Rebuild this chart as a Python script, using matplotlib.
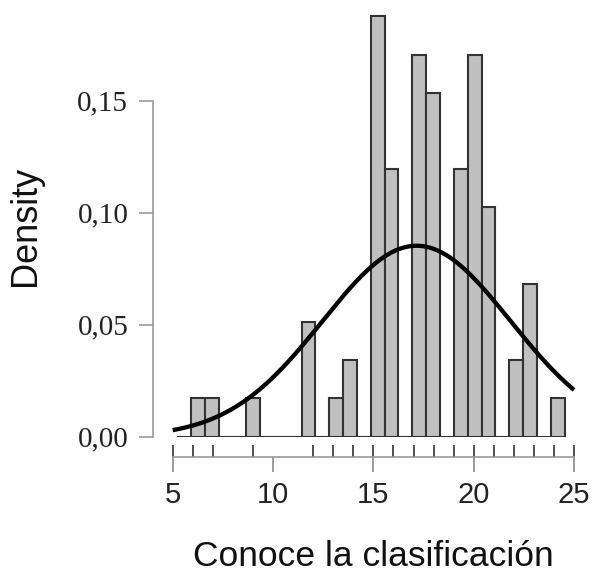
import numpy as np
import matplotlib
matplotlib.use('agg')
import matplotlib.pyplot as plt
from matplotlib.ticker import FixedLocator

# histogram: first bin edge, bin width, density per bin
bin_start = 5.21
bin_width = 0.69
density = [0.0, 0.0173, 0.0173, 0.0, 0.0, 0.0173, 0.0, 0.0, 0.0, 0.0513,
           0.0, 0.0173, 0.0344, 0.0, 0.188, 0.1195, 0.0, 0.1705, 0.1534, 0.0,
           0.1195, 0.1705, 0.1025, 0.0, 0.0344, 0.0683, 0.0, 0.0173]

# observed values shown as rug
rug_values = [6, 7, 9, 12, 13, 14, 15, 16, 17, 18, 19, 20, 21, 22, 23, 24]

# fitted normal curve
norm_mean = 17.15
norm_sd = 4.68

x_ticks = [5, 10, 15, 20, 25]
y_ticks = [0.00, 0.05, 0.10, 0.15]
y_ticklabels = ['0,00', '0,05', '0,10', '0,15']

edges = bin_start + bin_width * np.arange(len(density) + 1)

fig = plt.figure(figsize=(5.95, 5.74), dpi=100)
ax = fig.add_axes([153.3 / 595, 137.3 / 574, 432.8 / 595, 425.6 / 574])

ax.bar(edges[:-1], density, width=bin_width, align='edge',
       color='#c0c0c0', edgecolor='#333333', linewidth=1.5, zorder=2)

xs = np.linspace(x_ticks[0], x_ticks[-1], 300)
ys = np.exp(-0.5 * ((xs - norm_mean) / norm_sd) ** 2) / (norm_sd * np.sqrt(2 * np.pi))
ax.plot(xs, ys, color='black', lw=3.1, zorder=3, solid_capstyle='butt')

ax.set_xlim(4.03, 25.6)
ax.set_ylim(0, 0.19)

for s in ['top', 'right']:
    ax.spines[s].set_visible(False)

ax.spines['left'].set_bounds(y_ticks[0], y_ticks[-1])
ax.spines['left'].set_color('#9a9a9a')
ax.spines['left'].set_linewidth(1.2)
ax.set_yticks(y_ticks)
ax.set_yticklabels(y_ticklabels, family='Liberation Serif', fontsize=21, color='#222222')
ax.tick_params(axis='y', length=10, width=1.2, color='#9a9a9a', pad=8)

ax.spines['bottom'].set_position(('outward', 14.8))
ax.spines['bottom'].set_bounds(x_ticks[0], x_ticks[-1])
ax.spines['bottom'].set_color('#9a9a9a')
ax.spines['bottom'].set_linewidth(1.2)
ax.set_xticks(x_ticks)
ax.set_xticklabels([str(v) for v in x_ticks], family='Liberation Sans', fontsize=21, color='#222222')
ax.tick_params(axis='x', which='major', length=11, width=1.2, color='#8a8a8a', pad=6)

# rug drawn as inward minor ticks, plus the two axis end caps
ax.xaxis.remove_overlapping_locs = False
ax.xaxis.set_minor_locator(FixedLocator(rug_values + [x_ticks[0], x_ticks[-1]]))
ax.tick_params(axis='x', which='minor', direction='in', length=8.6, width=1.3, color='#444444')

fig.text(26 / 595, 1 - 226 / 574, 'Density', rotation=90, ha='center', va='center',
         family='Liberation Sans', fontsize=26, color='#111111')
fig.text(373.7 / 595, 1 / 574, 'Conoce la clasificación', ha='center', va='bottom',
         family='Liberation Sans', fontsize=25.5, color='#111111')

fig.savefig('out.png', dpi=100)
